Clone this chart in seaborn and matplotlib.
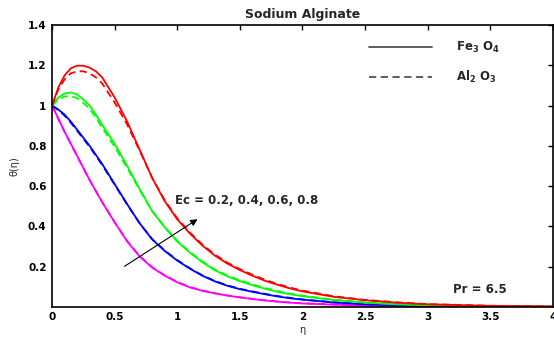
import pandas as pd
import matplotlib
matplotlib.use('Agg')
import matplotlib.pyplot as plt
import seaborn as sns
from matplotlib.lines import Line2D

# eta grid
eta = [0, 0.05, 0.1, 0.15, 0.2, 0.25, 0.3, 0.35, 0.4, 0.5, 0.6, 0.7, 0.8, 0.9, 1.0,
       1.1, 1.2, 1.3, 1.4, 1.5, 1.6, 1.7, 1.8, 1.9, 2.0, 2.25, 2.5, 2.75, 3.0, 3.5, 4.0]

ec_values = ['0.2', '0.4', '0.6', '0.8']
ec_colors = ['#ff00ff', '#0000ff', '#00ff00', '#ff0000']

# Fe3O4 (solid)
fe_02 = [1.0, 0.935, 0.87, 0.81, 0.75, 0.69, 0.63, 0.575, 0.52, 0.42, 0.325, 0.25, 0.195, 0.155, 0.122,
         0.097, 0.08, 0.067, 0.056, 0.047, 0.039, 0.032, 0.026, 0.021, 0.017, 0.011, 0.007, 0.004, 0.003, 0.001, 0.0]
fe_04 = [1.0, 0.98, 0.955, 0.92, 0.88, 0.84, 0.80, 0.755, 0.71, 0.61, 0.51, 0.415, 0.335, 0.278, 0.23,
         0.19, 0.155, 0.127, 0.105, 0.088, 0.075, 0.063, 0.052, 0.043, 0.036, 0.022, 0.013, 0.008, 0.005, 0.002, 0.0]
fe_06 = [1.0, 1.04, 1.06, 1.065, 1.055, 1.03, 1.0, 0.955, 0.905, 0.81, 0.70, 0.585, 0.475, 0.395, 0.325,
         0.27, 0.222, 0.182, 0.152, 0.128, 0.108, 0.09, 0.075, 0.063, 0.053, 0.034, 0.021, 0.013, 0.008, 0.003, 0.001]
fe_08 = [1.0, 1.09, 1.15, 1.185, 1.198, 1.198, 1.188, 1.17, 1.14, 1.04, 0.92, 0.78, 0.64, 0.525, 0.435,
         0.365, 0.305, 0.255, 0.215, 0.183, 0.155, 0.13, 0.11, 0.092, 0.077, 0.05, 0.033, 0.021, 0.013, 0.005, 0.002]

# Al2O3 (dashed)
al_02 = [1.0, 0.934, 0.869, 0.809, 0.749, 0.689, 0.63, 0.575, 0.521, 0.421, 0.327, 0.252, 0.197, 0.157, 0.124,
         0.099, 0.082, 0.068, 0.057, 0.048, 0.04, 0.033, 0.027, 0.022, 0.018, 0.012, 0.007, 0.004, 0.003, 0.001, 0.0]
al_04 = [1.0, 0.977, 0.95, 0.915, 0.875, 0.835, 0.795, 0.75, 0.705, 0.607, 0.508, 0.415, 0.336, 0.28, 0.232,
         0.192, 0.157, 0.129, 0.107, 0.09, 0.077, 0.065, 0.054, 0.045, 0.037, 0.023, 0.014, 0.009, 0.005, 0.002, 0.0]
al_06 = [1.0, 1.03, 1.045, 1.047, 1.037, 1.013, 0.983, 0.94, 0.89, 0.795, 0.69, 0.58, 0.475, 0.397, 0.328,
         0.273, 0.226, 0.186, 0.156, 0.132, 0.112, 0.094, 0.079, 0.066, 0.056, 0.036, 0.023, 0.014, 0.009, 0.003, 0.001]
al_08 = [1.0, 1.08, 1.13, 1.16, 1.17, 1.17, 1.16, 1.14, 1.11, 1.015, 0.905, 0.775, 0.64, 0.53, 0.44,
         0.37, 0.31, 0.26, 0.22, 0.188, 0.16, 0.135, 0.114, 0.096, 0.081, 0.053, 0.035, 0.023, 0.014, 0.006, 0.002]

x_ticks = [0, 0.5, 1, 1.5, 2, 2.5, 3, 3.5, 4]
x_ticklabels = ['0', '0.5', '1', '1.5', '2', '2.5', '3', '3.5', '4']
y_ticks = [0.2, 0.4, 0.6, 0.8, 1.0, 1.2, 1.4]
y_ticklabels = ['0.2', '0.4', '0.6', '0.8', '1', '1.2', '1.4']

# long-form table
rows = []
for fluid, series in [('Fe3O4', [fe_02, fe_04, fe_06, fe_08]), ('Al2O3', [al_02, al_04, al_06, al_08])]:
    for ec, vals in zip(ec_values, series):
        for e, t in zip(eta, vals):
            rows.append({'eta': e, 'theta': t, 'Ec': ec, 'fluid': fluid})
df = pd.DataFrame(rows)

sns.set_style('white')
plt.rcParams['font.family'] = ['DejaVu Sans']
plt.rcParams['mathtext.default'] = 'bf'

fig = plt.figure(figsize=(5.54, 3.38), dpi=100)
ax = fig.add_axes([0.094, 0.092, 0.904, 0.834])

sns.lineplot(data=df, x='eta', y='theta', hue='Ec', style='fluid',
             hue_order=ec_values, palette=ec_colors,
             style_order=['Fe3O4', 'Al2O3'], dashes={'Fe3O4': '', 'Al2O3': (4, 2.5)},
             sort=True, errorbar=None, linewidth=1.3, legend=False, ax=ax)

ax.set_xlim(0, 4)
ax.set_ylim(0, 1.4)
ax.set_xticks(x_ticks)
ax.set_xticklabels(x_ticklabels, fontsize=7.5, fontweight='bold')
ax.set_yticks(y_ticks)
ax.set_yticklabels(y_ticklabels, fontsize=7.5, fontweight='bold')
ax.tick_params(direction='in', length=3.5, width=1, top=True, right=True, pad=4, colors='black')
for s in ax.spines.values():
    s.set_visible(True)
    s.set_color('black')
    s.set_linewidth(1.2)

ax.set_xlabel('η', fontsize=7, labelpad=2)
ax.set_ylabel('θ(η)', fontsize=7, labelpad=6)
ax.set_title('Sodium Alginate', fontsize=9, fontweight='bold', pad=5)

ax.annotate('', xy=(1.18, 0.443), xytext=(0.56, 0.194),
            arrowprops=dict(arrowstyle='-|>', color='black', lw=0.8, mutation_scale=10))
ax.text(0.98, 0.53, 'Ec = 0.2, 0.4, 0.6, 0.8', fontsize=8.5, fontweight='bold', va='center')
ax.text(3.2, 0.085, 'Pr = 6.5', fontsize=8.5, fontweight='bold', va='center')

handles = [Line2D([], [], color='#505050', lw=1.3, ls='-'),
           Line2D([], [], color='#505050', lw=1.3, ls=(0, (4, 2.5)))]
ax.legend(handles, ['Fe$_3$ O$_4$', 'Al$_2$ O$_3$'], loc='upper right', bbox_to_anchor=(0.915, 0.985),
          frameon=False, handlelength=5.4, handletextpad=2.0, labelspacing=1.2,
          prop={'size': 8.5, 'weight': 'bold'})

fig.savefig('out.png', dpi=100)
